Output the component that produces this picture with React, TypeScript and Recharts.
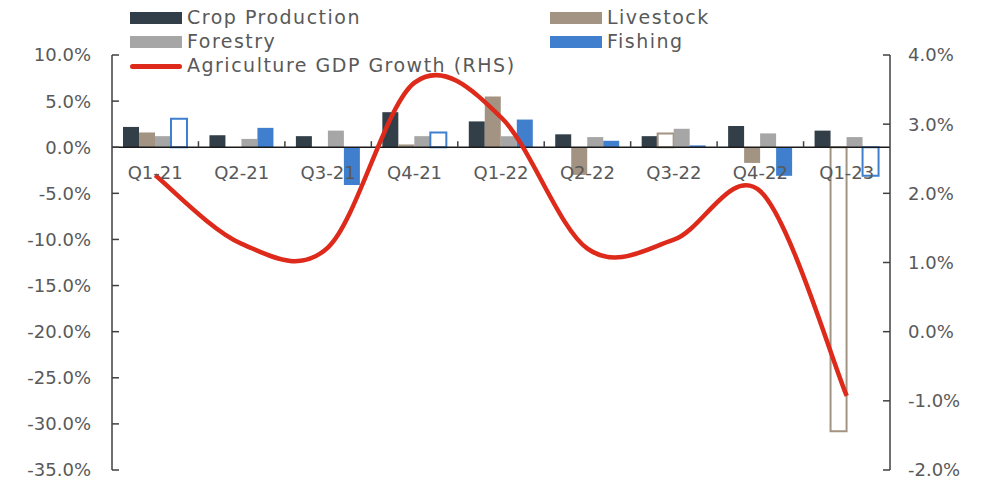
import React from 'react';
import {
  ComposedChart,
  Bar,
  Line,
  Cell,
  XAxis,
  YAxis,
  ReferenceLine,
} from 'recharts';

const categories = ['Q1-21', 'Q2-21', 'Q3-21', 'Q4-21', 'Q1-22', 'Q2-22', 'Q3-22', 'Q4-22', 'Q1-23'];
const cropProduction = [2.2, 1.3, 1.2, 3.8, 2.8, 1.4, 1.2, 2.3, 1.8];
const livestock = [1.6, 0, 0, 0.3, 5.5, -3.0, 1.5, -1.7, -30.8];
const forestry = [1.2, 0.9, 1.8, 1.2, 1.2, 1.1, 2.0, 1.5, 1.1];
const fishing = [3.1, 2.1, -4.1, 1.6, 3.0, 0.7, 0.2, -3.1, -3.1];
const agriGdpGrowth = [2.26, 1.27, 1.22, 3.6, 3.1, 1.2, 1.33, 2.03, -0.93];
// outlined (white) bars in the original
const livestockHollow = [false, false, false, false, false, false, true, false, true];
const fishingHollow = [true, false, false, true, false, false, false, false, true];

const leftTicks = [10, 5, 0, -5, -10, -15, -20, -25, -30, -35];
const rightTicks = [4, 3, 2, 1, 0, -1, -2];

const COLORS = {
  crop: '#333f48',
  livestock: '#a39382',
  forestry: '#a6a6a6',
  fishing: '#3f7fcd',
  gdp: '#dd2a1b',
  text: '#595959',
  axis: '#404040',
};

const W = 982;
const H = 483;
const PLOT_LEFT = 112;
const PLOT_RIGHT = 890;
const PLOT_TOP = 55;
const PLOT_BOTTOM = 470;
const FONT = '"DejaVu Sans", sans-serif';

const data = categories.map((name, i) => ({
  name,
  crop: cropProduction[i],
  livestock: livestock[i],
  forestry: forestry[i],
  fishing: fishing[i],
  gdp: agriGdpGrowth[i],
}));

const zeroY =
  PLOT_TOP + (leftTicks[0] / (leftTicks[0] - leftTicks[leftTicks.length - 1])) * (PLOT_BOTTOM - PLOT_TOP);
const band = (PLOT_RIGHT - PLOT_LEFT) / categories.length;

// smoothed line like a spreadsheet "smooth line" (catmull-rom style bezier)
const smoothCurve = (context: any) => {
  let pts: number[][] = [];
  return {
    areaStart() {},
    areaEnd() {},
    lineStart() {
      pts = [];
    },
    lineEnd() {
      if (!pts.length) return;
      context.moveTo(pts[0][0], pts[0][1]);
      for (let i = 0; i < pts.length - 1; i++) {
        const p0 = pts[i - 1] || pts[i];
        const p1 = pts[i];
        const p2 = pts[i + 1];
        const p3 = pts[i + 2] || p2;
        context.bezierCurveTo(
          p1[0] + (p2[0] - p0[0]) / 6,
          p1[1] + (p2[1] - p0[1]) / 6,
          p2[0] - (p3[0] - p1[0]) / 6,
          p2[1] - (p3[1] - p1[1]) / 6,
          p2[0],
          p2[1]
        );
      }
    },
    point(x: number, y: number) {
      pts.push([x, y]);
    },
  };
};

const CategoryTick = (props: any) => {
  const { x, payload, index } = props;
  return (
    <g>
      {index > 0 && (
        <line
          x1={x - band / 2}
          x2={x - band / 2}
          y1={zeroY}
          y2={zeroY - 6}
          stroke={COLORS.axis}
          strokeWidth={1.5}
        />
      )}
      <text
        x={x}
        y={zeroY + 32}
        textAnchor="middle"
        fill={COLORS.text}
        fontSize={18}
        fontFamily={FONT}
      >
        {payload.value}
      </text>
    </g>
  );
};

const fmt = (v: number) => `${v.toFixed(1)}%`;

const legendItems = [
  { label: 'Crop Production', color: COLORS.crop, x: 130, y: 18, type: 'bar' },
  { label: 'Livestock', color: COLORS.livestock, x: 550, y: 18, type: 'bar' },
  { label: 'Forestry', color: COLORS.forestry, x: 130, y: 42, type: 'bar' },
  { label: 'Fishing', color: COLORS.fishing, x: 550, y: 42, type: 'bar' },
  { label: 'Agriculture GDP Growth (RHS)', color: COLORS.gdp, x: 130, y: 66, type: 'line' },
];

const App = () => {
  return (
    <div style={{ position: 'absolute', left: 0, top: 0, width: W, height: H, background: '#fff' }}>
      <ComposedChart
        width={W}
        height={H}
        data={data}
        margin={{ top: PLOT_TOP, right: 0, bottom: H - PLOT_BOTTOM - 1, left: 0 }}
        barGap={0}
        barSize={16}
      >
        <XAxis
          dataKey="name"
          axisLine={false}
          tickLine={false}
          height={1}
          interval={0}
          tick={<CategoryTick />}
        />
        <YAxis
          yAxisId="left"
          orientation="left"
          width={PLOT_LEFT}
          domain={[leftTicks[leftTicks.length - 1], leftTicks[0]]}
          ticks={leftTicks}
          tickFormatter={fmt}
          tickSize={-7}
          tickMargin={28}
          axisLine={{ stroke: COLORS.axis, strokeWidth: 1.5 }}
          tickLine={{ stroke: COLORS.axis, strokeWidth: 1.5 }}
          tick={{ fill: COLORS.text, fontSize: 18, fontFamily: FONT }}
          allowDataOverflow
        />
        <YAxis
          yAxisId="right"
          orientation="right"
          width={W - PLOT_RIGHT}
          domain={[rightTicks[rightTicks.length - 1], rightTicks[0]]}
          ticks={rightTicks}
          tickFormatter={fmt}
          tickSize={-7}
          tickMargin={25}
          axisLine={{ stroke: COLORS.axis, strokeWidth: 1.5 }}
          tickLine={{ stroke: COLORS.axis, strokeWidth: 1.5 }}
          tick={{ fill: COLORS.text, fontSize: 18, fontFamily: FONT }}
          allowDataOverflow
        />
        <Bar yAxisId="left" dataKey="crop" fill={COLORS.crop} isAnimationActive={false} />
        <Bar yAxisId="left" dataKey="livestock" fill={COLORS.livestock} isAnimationActive={false}>
          {livestock.map((_, i) => (
            <Cell
              key={i}
              fill={livestockHollow[i] ? '#fff' : COLORS.livestock}
              stroke={livestockHollow[i] ? COLORS.livestock : 'none'}
              strokeWidth={2}
            />
          ))}
        </Bar>
        <Bar yAxisId="left" dataKey="forestry" fill={COLORS.forestry} isAnimationActive={false} />
        <Bar yAxisId="left" dataKey="fishing" fill={COLORS.fishing} isAnimationActive={false}>
          {fishing.map((_, i) => (
            <Cell
              key={i}
              fill={fishingHollow[i] ? '#fff' : COLORS.fishing}
              stroke={fishingHollow[i] ? COLORS.fishing : 'none'}
              strokeWidth={2}
            />
          ))}
        </Bar>
        <ReferenceLine yAxisId="left" y={0} stroke="#1a1a1a" strokeWidth={1.5} />
        <Line
          yAxisId="right"
          dataKey="gdp"
          type={smoothCurve as any}
          stroke={COLORS.gdp}
          strokeWidth={4.5}
          dot={false}
          activeDot={false}
          isAnimationActive={false}
        />
      </ComposedChart>
      {legendItems.map((item) => (
        <div key={item.label}>
          {item.type === 'bar' ? (
            <div
              style={{
                position: 'absolute',
                left: item.x,
                top: item.y - 6,
                width: 52,
                height: 12,
                background: item.color,
              }}
            />
          ) : (
            <div
              style={{
                position: 'absolute',
                left: item.x,
                top: item.y - 2.5,
                width: 52,
                height: 5,
                borderRadius: 3,
                background: item.color,
              }}
            />
          )}
          <div
            style={{
              position: 'absolute',
              left: item.x + 57,
              top: item.y - 13,
              lineHeight: '24px',
              fontSize: 19,
              letterSpacing: 1.5,
              fontFamily: FONT,
              color: COLORS.text,
              whiteSpace: 'nowrap',
            }}
          >
            {item.label}
          </div>
        </div>
      ))}
    </div>
  );
};

export default App;
